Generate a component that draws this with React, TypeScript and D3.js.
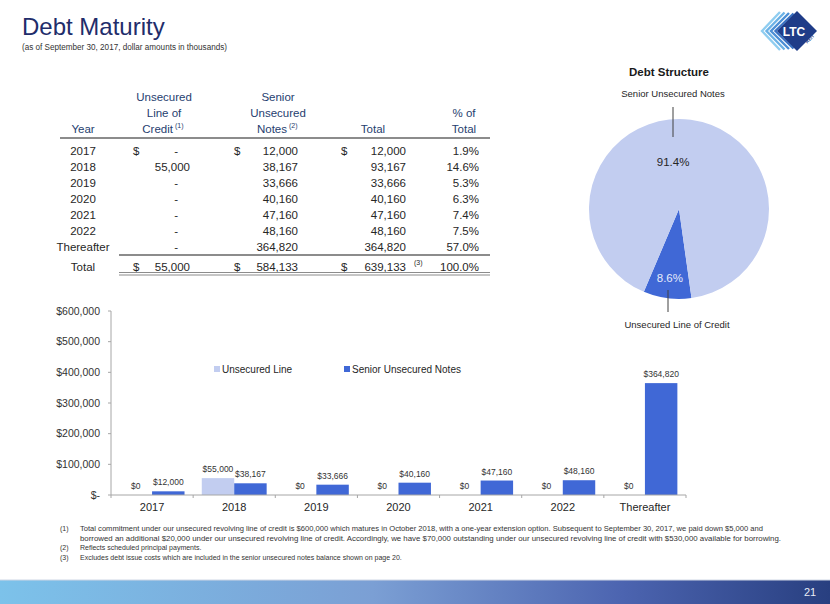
import React from 'react'
import * as d3 from 'd3'

const years = ['2017', '2018', '2019', '2020', '2021', '2022', 'Thereafter']
const lineOfCredit = [0, 55000, 0, 0, 0, 0, 0]
const seniorNotes = [12000, 38167, 33666, 40160, 47160, 48160, 364820]
const pctOfTotal = ['1.9%', '14.6%', '5.3%', '6.3%', '7.4%', '7.5%', '57.0%']
const yTicks = [0, 100000, 200000, 300000, 400000, 500000, 600000]
const seriesNames = ['Unsecured Line', 'Senior Unsecured Notes']
const pieNames = ['Unsecured Line of Credit', 'Senior Unsecured Notes']
const footnotes = [
  ['(1)', 'Total commitment under our unsecured revolving line of credit is $600,000 which matures in October 2018, with a one-year extension option.  Subsequent to September 30, 2017, we paid down $5,000 and'],
  ['', 'borrowed an additional $20,000 under our unsecured revolving line of credit. Accordingly, we have $70,000 outstanding under our unsecured revolving line of credit with $530,000 available for borrowing.'],
  ['(2)', 'Reflects scheduled principal payments.'],
  ['(3)', 'Excludes debt issue costs which are included in the senior unsecured notes balance shown on page 20.'],
]

const font = '"Liberation Sans", Arial, sans-serif'
const light = '#c2cdf0'
const dark = '#4068d6'
const navy = '#1f2d6b'
const headColor = '#26406f'
const textColor = '#262626'

const fmt = d3.format(',')
const money = (v: number) => (v === 0 ? '$-' : '$' + fmt(v))

const sum = (a: number[]) => a.reduce((s, v) => s + v, 0)
const totals = years.map((_, i) => lineOfCredit[i] + seniorNotes[i])
const locTotal = sum(lineOfCredit)
const snTotal = sum(seniorNotes)
const grandTotal = locTotal + snTotal

// table layout
const rowY0 = 151
const rowStep = 16
const cols = {year: 83, c1d: 133, c1: 190, c2d: 234, c2: 298, c3d: 341, c3: 406, pct: 479}

function Table() {
  const cell = (x: number, y: number, t: string, anchor = 'end') => (
    <text x={x} y={y} dy="0.35em" textAnchor={anchor} fontSize={11.5} fill={textColor}>{t}</text>
  )
  const totalY = rowY0 + rowStep * years.length + 2
  return (
    <g fontFamily={font}>
      <g fill={headColor} fontSize={11.5} textAnchor="middle">
        <text x={164} y={97} dy="0.35em">Unsecured</text>
        <text x={164} y={113} dy="0.35em">Line of</text>
        <text x={173} y={129} dy="0.35em" textAnchor="end">Credit</text>
        <text x={175} y={126} dy="0.35em" textAnchor="start" fontSize={7}>(1)</text>
        <text x={278} y={97} dy="0.35em">Senior</text>
        <text x={278} y={113} dy="0.35em">Unsecured</text>
        <text x={287} y={129} dy="0.35em" textAnchor="end">Notes</text>
        <text x={289} y={126} dy="0.35em" textAnchor="start" fontSize={7}>(2)</text>
        <text x={83} y={129} dy="0.35em">Year</text>
        <text x={373} y={129} dy="0.35em">Total</text>
        <text x={464} y={113} dy="0.35em">% of</text>
        <text x={464} y={129} dy="0.35em">Total</text>
      </g>
      <line x1={60} x2={490} y1={138} y2={138} stroke="#8c8c8c" strokeWidth={2} />
      {years.map((yr, i) => {
        const y = rowY0 + i * rowStep
        return (
          <g key={yr}>
            {cell(cols.year, y, yr, 'middle')}
            {i === 0 && cell(cols.c1d, y, '$', 'start')}
            {lineOfCredit[i] === 0 ? cell(178, y, '-', 'end') : cell(cols.c1, y, fmt(lineOfCredit[i]))}
            {i === 0 && cell(cols.c2d, y, '$', 'start')}
            {cell(cols.c2, y, fmt(seniorNotes[i]))}
            {i === 0 && cell(cols.c3d, y, '$', 'start')}
            {cell(cols.c3, y, fmt(totals[i]))}
            {cell(cols.pct, y, pctOfTotal[i])}
          </g>
        )
      })}
      <line x1={119} x2={490} y1={255} y2={255} stroke="#8c8c8c" strokeWidth={2} />
      {cell(cols.year, totalY + 2, 'Total', 'middle')}
      {cell(cols.c1d, totalY + 2, '$', 'start')}
      {cell(cols.c1, totalY + 2, fmt(locTotal))}
      {cell(cols.c2d, totalY + 2, '$', 'start')}
      {cell(cols.c2, totalY + 2, fmt(snTotal))}
      {cell(cols.c3d, totalY + 2, '$', 'start')}
      {cell(cols.c3, totalY + 2, fmt(grandTotal))}
      <text x={414} y={totalY - 2} dy="0.35em" fontSize={7} fill={textColor}>(3)</text>
      {cell(cols.pct, totalY + 2, '100.0%')}
      <line x1={119} x2={490} y1={272.5} y2={272.5} stroke="#8c8c8c" strokeWidth={1} />
      <line x1={119} x2={490} y1={275} y2={275} stroke="#8c8c8c" strokeWidth={1} />
    </g>
  )
}

function Pie() {
  const cx = 679, cy = 209, r = 90
  const pie = d3.pie<number>().sort(null)
    .startAngle((172 * Math.PI) / 180)
    .endAngle((532 * Math.PI) / 180)
  const arcs = pie([locTotal, snTotal])
  const arc = d3.arc<d3.PieArcDatum<number>>().innerRadius(0).outerRadius(r)
  const pct = d3.format('.1%')
  const labelR = [70, 47]
  const labelColor = ['#e6ebfa', '#262626']
  return (
    <g fontFamily={font} transform={`translate(${cx},${cy})`}>
      <text x={-10} y={-137} dy="0.35em" textAnchor="middle" fontSize={11.5} fontWeight="bold" fill="#1a1a1a">Debt Structure</text>
      {arcs.map((a, i) => (
        <path key={i} d={arc(a) || ''} fill={i === 0 ? dark : light} />
      ))}
      {arcs.map((a, i) => {
        const c = d3.arc<d3.PieArcDatum<number>>().innerRadius(labelR[i]).outerRadius(labelR[i]).centroid(a)
        return (
          <text key={i} x={c[0] - (i === 1 ? 12 : 0)} y={c[1]} dy="0.35em" textAnchor="middle" fontSize={11.5} fill={labelColor[i]}>
            {pct(a.value / grandTotal)}
          </text>
        )
      })}
      <text x={-6} y={-115} dy="0.35em" textAnchor="middle" fontSize={9.5} fill="#262626">{pieNames[1]}</text>
      <line x1={-6} x2={-6} y1={-102} y2={-72} stroke="#404040" strokeWidth={1} />
      <line x1={-11} x2={-11} y1={81} y2={103} stroke="#404040" strokeWidth={1} />
      <text x={-2} y={116} dy="0.35em" textAnchor="middle" fontSize={9.5} fill="#262626">{pieNames[0]}</text>
    </g>
  )
}

function Bars() {
  const left = 111, right = 686, top = 311, bottom = 495
  const x0 = d3.scaleBand<string>().domain(years).range([left, right]).paddingInner(0.21).paddingOuter(0.105)
  const x1 = d3.scaleBand<number>().domain([0, 1]).range([0, x0.bandwidth()])
  const y = d3.scaleLinear().domain([0, 600000]).range([bottom, top])
  const step = x0.step()
  const series = [lineOfCredit, seniorNotes]
  return (
    <g fontFamily={font}>
      {yTicks.map(t => (
        <g key={t}>
          <line x1={left - 3} x2={left} y1={y(t)} y2={y(t)} stroke="#a6a6a6" />
          <text x={left - 11} y={y(t)} dy="0.35em" textAnchor="end" fontSize={10.5} fill="#333">{money(t)}</text>
        </g>
      ))}
      <line x1={left} x2={left} y1={top} y2={bottom} stroke="#a6a6a6" />
      {years.map((yr, i) => (
        <g key={yr}>
          {series.map((s, j) => {
            const bx = (x0(yr) || 0) + (x1(j) || 0)
            const v = s[i]
            return (
              <g key={j}>
                {v > 0 && <rect x={bx} y={y(v)} width={x1.bandwidth()} height={bottom - y(v)} fill={j === 0 ? light : dark} />}
                <text x={bx + x1.bandwidth() / 2} y={y(v) - 9} dy="0.35em" textAnchor="middle" fontSize={8.5} fill="#333">{'$' + fmt(v)}</text>
              </g>
            )
          })}
          <text x={(x0(yr) || 0) + x0.bandwidth() / 2} y={507} dy="0.35em" textAnchor="middle" fontSize={11} fill="#262626">{yr}</text>
        </g>
      ))}
      <line x1={left} x2={right} y1={bottom} y2={bottom} stroke="#a6a6a6" />
      {d3.range(years.length + 1).map(k => (
        <line key={k} x1={left + k * step} x2={left + k * step} y1={bottom} y2={bottom + 3} stroke="#a6a6a6" />
      ))}
      <rect x={214} y={366} width={6} height={6} fill={light} />
      <text x={222} y={369} dy="0.35em" fontSize={10} fill="#262626">{seriesNames[0]}</text>
      <rect x={344} y={366} width={6} height={6} fill={dark} />
      <text x={352} y={369} dy="0.35em" fontSize={10} fill="#262626">{seriesNames[1]}</text>
    </g>
  )
}

function Logo() {
  const chev = ['#8fcdf0', '#6cb2e6', '#4c90d6', '#3a72c2']
  return (
    <g>
      {chev.map((c, i) => {
        const ox = 762 + i * 4.5
        return <polyline key={i} points={`${ox + 18},${12 + i * 0.5} ${ox},${31} ${ox + 18},${50 - i * 0.5}`} fill="none" stroke={c} strokeWidth={2.4} />
      })}
      <polygon points="797,11 817,31 797,51 777,31" fill="#1f3c88" />
      <text x={794} y={32} dy="0.35em" textAnchor="middle" fontFamily={font} fontWeight="bold" fontSize={12} fill="#fff">LTC</text>
      <text x={811} y={40} textAnchor="middle" fontFamily={font} fontWeight="bold" fontSize={4.5} fill="#1f3c88" transform="rotate(-45 811 40)">REIT</text>
    </g>
  )
}

export default function App() {
  return (
    <div style={{position: 'absolute', left: 0, top: 0}}>
      <svg width={830} height={604} style={{display: 'block', background: '#fff'}}>
        <defs>
          <linearGradient id="foot" x1="0" x2="1" y1="0" y2="0">
            <stop offset="0" stopColor="#7cc2ea" />
            <stop offset="0.45" stopColor="#7b9fd4" />
            <stop offset="0.75" stopColor="#4c64b0" />
            <stop offset="1" stopColor="#283f80" />
          </linearGradient>
        </defs>
        <text x={22} y={35} fontFamily={font} fontSize={24} fill={navy}>Debt Maturity</text>
        <text x={22} y={50} fontFamily={font} fontSize={8.5} fill="#333" textLength={205} lengthAdjust="spacingAndGlyphs">(as of September 30, 2017, dollar amounts in thousands)</text>
        <Logo />
        <Table />
        <Pie />
        <Bars />
        <g fontFamily={font} fontSize={7} fill="#333">
          {footnotes.map((f, i) => (
            <g key={i}>
              <text x={60} y={529 + i * 9.5} dy="0.35em">{f[0]}</text>
              <text x={80} y={529 + i * 9.5} dy="0.35em" {...(i < 2 ? {textLength: i === 0 ? 683 : 701, lengthAdjust: 'spacingAndGlyphs'} : {})}>{f[1]}</text>
            </g>
          ))}
        </g>
        <rect x={0} y={580} width={830} height={24} fill="url(#foot)" />
        <line x1={0} x2={830} y1={580} y2={580} stroke="#cfd6e4" />
        <text x={810} y={596} textAnchor="middle" fontFamily={font} fontSize={11} fill="#e8ecf6">21</text>
      </svg>
    </div>
  )
}
